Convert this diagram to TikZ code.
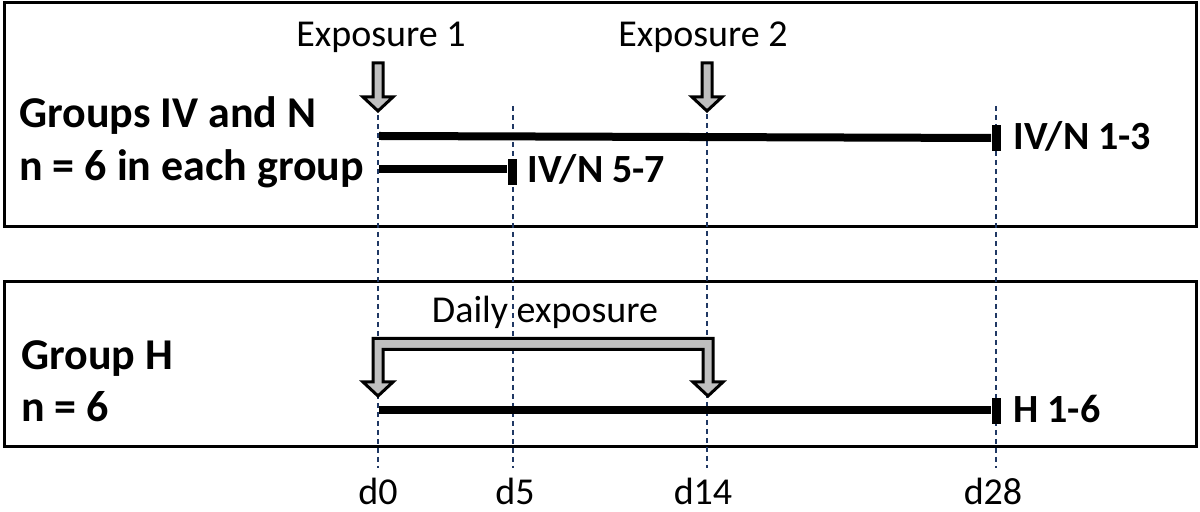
\documentclass[tikz,border=0pt]{standalone}
\usepackage{fontspec}
\setmainfont{Carlito}
\usepackage{tikz}
\usepackage{color}
\definecolor{dayblue}{RGB}{32,56,100}

\begin{document}
\begin{tikzpicture}[x=0.5pt,y=-0.5pt,
  panel/.style={draw,line width=1.5pt},
  dayline/.style={color=dayblue,dash pattern=on 2.5pt off 2pt,line width=0.75pt},
  period/.style={line width=4pt},
  endmark/.style={fill,inner sep=0pt,minimum width=4.5pt,minimum height=13pt},
  shot/.style={draw,fill=black!25,line width=1.5pt,line join=miter},
  txt/.style={anchor=base,inner sep=0pt,font=\fontsize{19}{23}\selectfont},
  grp/.style={anchor=base west,inner sep=0pt,font=\fontsize{22}{26}\selectfont\bfseries},
  lbl/.style={anchor=base west,inner sep=0pt,font=\fontsize{20}{24}\selectfont\bfseries}]
\useasboundingbox (0,0) rectangle (1200,512);

% the two group panels
\draw[panel] (4.5,2.5) rectangle (1196.5,227);
\draw[panel] (4.5,282) rectangle (1196.5,447);

% days
\draw[dayline] (378,115) -- (378,468);
\draw[dayline] (513,106) -- (513,468);
\draw[dayline] (707,114) -- (707,468);
\draw[dayline] (996,106) -- (996,468);
\node[txt] (day0) at (378,505) {d0};
\node[txt] (day5) at (515,505) {d5};
\node[txt] (day14) at (703,505) {d14};
\node[txt] (day28) at (993,505) {d28};

% groups IV and N
\node[grp] (grpA) at (19,128) {Groups IV and N};
\node[grp] (grpAn) at (19,181) {n = 6 in each group};

\node[txt] (exp1) at (381,47) {Exposure 1};
\draw[shot] (378,111) -- (363,97) -- (373,97) -- (373,63) -- (383,63) -- (383,97) -- (393,97) -- cycle;
\node[txt] (exp2) at (703,47) {Exposure 2};
\draw[shot] (707,111) -- (692,97) -- (702,97) -- (702,63) -- (712,63) -- (712,97) -- (722,97) -- cycle;

\coordinate (startA) at (379,136);
\node[endmark] (endA) at (996,138) {};
\draw[period] (startA) -- (endA);
\node[lbl] (labA) at (1013,150) {IV/N 1-3};

\coordinate (startB) at (379,169);
\node[endmark] (endB) at (512,172) {};
\draw[period] (startB) -- (endB.west |- startB);
\node[lbl] (labB) at (527,183) {IV/N 5-7};

% group H
\node[grp] (grpH) at (21,370) {Group H};
\node[grp] (grpHn) at (21,422) {n = 6};

\node[txt] (daily) at (545,323) {Daily exposure};
\draw[shot] (378,396) -- (363,382) -- (373,382) -- (373,338.5) -- (713,338.5) -- (713,382) -- (723,382) -- (708,396) -- (693,382) -- (703,382) -- (703,349.5) -- (383,349.5) -- (383,382) -- (393,382) -- cycle;

\coordinate (startH) at (379,410);
\node[endmark] (endH) at (996,411) {};
\draw[period] (startH) -- (endH.west |- startH);
\node[lbl] (labH) at (1013,423) {H 1-6};
\end{tikzpicture}
\end{document}
